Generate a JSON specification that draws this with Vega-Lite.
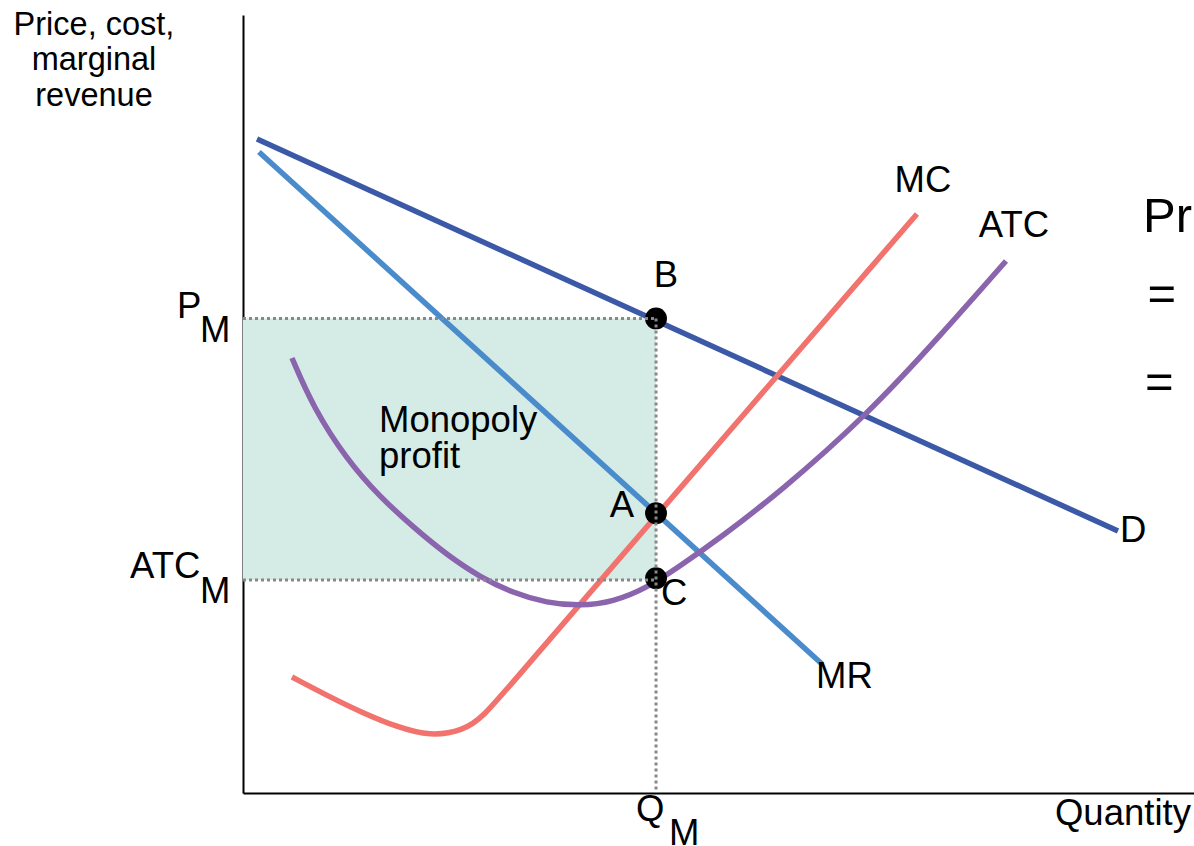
{
  "$schema": "https://vega.github.io/schema/vega-lite/v6.json",
  "width": 951,
  "height": 778,
  "autosize": {"type": "none"},
  "padding": {"left": 243, "top": 15, "right": 0, "bottom": 53},
  "background": "white",
  "config": {"view": {"stroke": null}, "font": "Liberation Sans"},
  "datasets": {
    "curves": [
      {"curve": "D", "q": 0.147, "p": 8.406},
      {"curve": "D", "q": 9.201, "p": 3.368},
      {"curve": "MR", "q": 0.168, "p": 8.239},
      {"curve": "MR", "q": 6.088, "p": 1.658},
      {"curve": "MC", "q": 0.515, "p": 1.491},
      {"curve": "MC", "q": 0.915, "p": 1.234},
      {"curve": "MC", "q": 1.262, "p": 1.028},
      {"curve": "MC", "q": 1.619, "p": 0.848},
      {"curve": "MC", "q": 1.966, "p": 0.73},
      {"curve": "MC", "q": 2.313, "p": 0.8},
      {"curve": "MC", "q": 2.524, "p": 0.977},
      {"curve": "MC", "q": 2.839, "p": 1.427},
      {"curve": "MC", "q": 4.343, "p": 3.56},
      {"curve": "MC", "q": 7.087, "p": 7.442},
      {"curve": "ATC", "q": 0.515, "p": 5.591},
      {"curve": "ATC", "q": 0.736, "p": 4.961},
      {"curve": "ATC", "q": 1.094, "p": 4.28},
      {"curve": "ATC", "q": 1.441, "p": 3.805},
      {"curve": "ATC", "q": 1.788, "p": 3.419},
      {"curve": "ATC", "q": 2.145, "p": 3.059},
      {"curve": "ATC", "q": 2.492, "p": 2.776},
      {"curve": "ATC", "q": 2.839, "p": 2.571},
      {"curve": "ATC", "q": 3.197, "p": 2.442},
      {"curve": "ATC", "q": 3.544, "p": 2.404},
      {"curve": "ATC", "q": 3.891, "p": 2.455},
      {"curve": "ATC", "q": 4.248, "p": 2.635},
      {"curve": "ATC", "q": 4.595, "p": 2.918},
      {"curve": "ATC", "q": 5.016, "p": 3.278},
      {"curve": "ATC", "q": 5.647, "p": 3.869},
      {"curve": "ATC", "q": 6.562, "p": 4.859},
      {"curve": "ATC", "q": 7.329, "p": 5.874},
      {"curve": "ATC", "q": 8.023, "p": 6.838}
    ],
    "profit": [{"q": 0, "q2": 4.343, "p": 2.738, "p2": 6.099}],
    "guides": [
      {"q": 0, "q2": 4.343, "p": 6.099, "p2": 6.099},
      {"q": 0, "q2": 4.343, "p": 2.738, "p2": 2.738},
      {"q": 4.343, "q2": 4.343, "p": 6.099, "p2": 0}
    ],
    "points": [
      {"name": "B", "q": 4.343, "p": 6.1},
      {"name": "A", "q": 4.343, "p": 3.595},
      {"name": "C", "q": 4.343, "p": 2.76}
    ],
    "centerLabels": [
      {"label": "B", "q": 4.448, "p": 6.504},
      {"label": "A", "q": 3.985, "p": 3.548},
      {"label": "MC", "q": 7.15, "p": 7.725},
      {"label": "ATC", "q": 8.107, "p": 7.147}
    ],
    "leftLabels": [
      {"label": "C", "q": 4.395, "p": 2.416},
      {"label": "D", "q": 9.222, "p": 3.226},
      {"label": "MR", "q": 6.025, "p": 1.35},
      {"label": "Quantity", "q": 8.538, "p": -0.411},
      {"label": "Q", "q": 4.132, "p": -0.36},
      {"label": "M", "q": 4.479, "p": -0.668},
      {"label": "P", "q": -0.694, "p": 6.105},
      {"label": "M", "q": -0.452, "p": 5.797},
      {"label": "ATC", "q": -1.187, "p": 2.763},
      {"label": "M", "q": -0.452, "p": 2.442}
    ],
    "areaLabel": [
      {"label": "Monopoly\nprofit", "q": 1.43, "p": 4.64}
    ],
    "yTitle": [
      {"label": "Price, cost,\nmarginal\nrevenue", "q": -1.567, "p": 9.743}
    ],
    "sideText": [
      {"label": "Profit", "q": 9.464, "p": 7.211},
      {"label": "=", "q": 9.511, "p": 6.208},
      {"label": "=", "q": 9.485, "p": 5.082}
    ]
  },
  "encoding": {
    "x": {"field": "q", "type": "quantitative", "scale": {"domain": [0, 10], "nice": false, "zero": false}},
    "y": {"field": "p", "type": "quantitative", "scale": {"domain": [0, 10], "nice": false, "zero": false}}
  },
  "layer": [
    {
      "data": {"name": "profit"},
      "mark": {"type": "rect", "fill": "#d5ece6"},
      "encoding": {
        "x": {"field": "q", "type": "quantitative", "axis": {"domain": true, "domainColor": "black", "domainWidth": 2, "ticks": false, "labels": false, "grid": false, "title": null}},
        "x2": {"field": "q2"},
        "y": {"field": "p", "type": "quantitative", "axis": {"domain": true, "domainColor": "black", "domainWidth": 2, "ticks": false, "labels": false, "grid": false, "title": null}},
        "y2": {"field": "p2"}
      }
    },
    {
      "data": {"name": "curves"},
      "mark": {"type": "line", "strokeWidth": 5.5, "interpolate": "basis"},
      "encoding": {
        "color": {"field": "curve", "type": "nominal", "legend": null,
          "scale": {"domain": ["D", "MR", "MC", "ATC"], "range": ["#3b59a6", "#4a8bcb", "#f2736d", "#8a65ad"]}}
      }
    },
    {
      "data": {"name": "points"},
      "mark": {"type": "point", "shape": "circle", "filled": true, "color": "black", "size": 480, "opacity": 1}
    },
    {
      "data": {"name": "guides"},
      "mark": {"type": "rule", "color": "#888888", "strokeWidth": 3, "strokeDash": [3, 3]},
      "encoding": {"x2": {"field": "q2"}, "y2": {"field": "p2"}}
    },
    {
      "data": {"name": "centerLabels"},
      "mark": {"type": "text", "align": "center", "baseline": "alphabetic", "fontSize": 36.5, "color": "black", "font": "Liberation Sans"},
      "encoding": {"text": {"field": "label"}}
    },
    {
      "data": {"name": "leftLabels"},
      "mark": {"type": "text", "align": "left", "baseline": "alphabetic", "fontSize": 36.5, "color": "black", "font": "Liberation Sans"},
      "encoding": {"text": {"field": "label"}}
    },
    {
      "data": {"name": "areaLabel"},
      "mark": {"type": "text", "align": "left", "baseline": "alphabetic", "fontSize": 36.5, "lineBreak": "\n", "lineHeight": 36, "color": "black", "font": "Liberation Sans"},
      "encoding": {"text": {"field": "label"}}
    },
    {
      "data": {"name": "yTitle"},
      "mark": {"type": "text", "align": "center", "baseline": "alphabetic", "fontSize": 32.5, "lineBreak": "\n", "lineHeight": 35.5, "color": "black", "font": "Liberation Sans"},
      "encoding": {"text": {"field": "label"}}
    },
    {
      "data": {"name": "sideText"},
      "mark": {"type": "text", "align": "left", "baseline": "alphabetic", "fontSize": 49, "color": "black", "font": "Liberation Sans"},
      "encoding": {"text": {"field": "label"}}
    }
  ]
}
